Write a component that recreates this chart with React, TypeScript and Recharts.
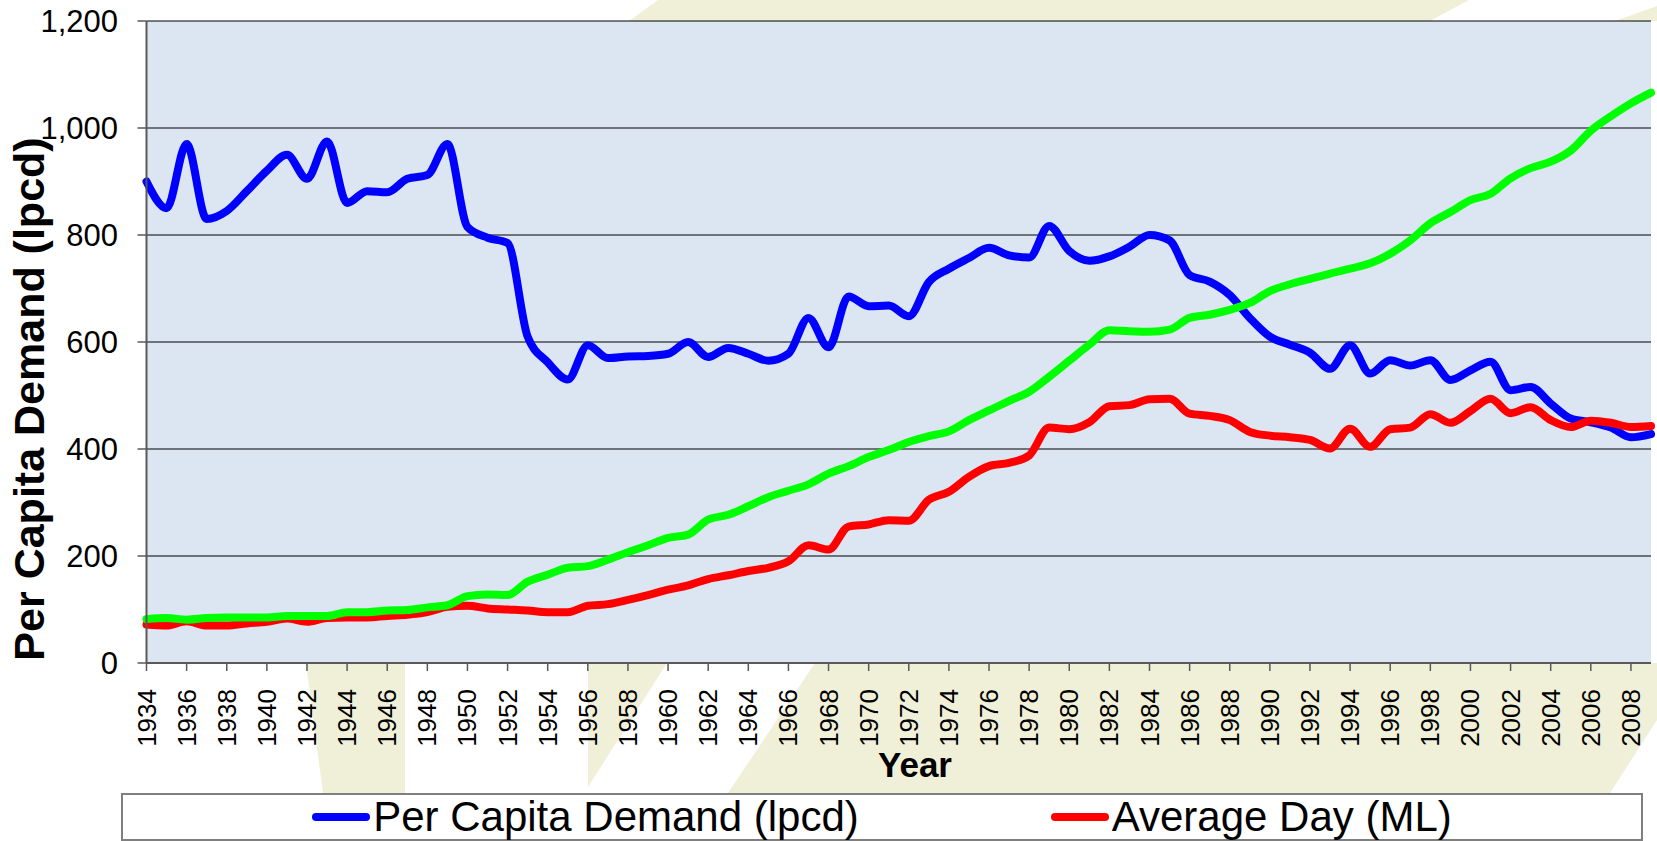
import { CartesianGrid, Legend, Line, LineChart, XAxis, YAxis } from "recharts";

const FONT = '"Liberation Sans", Arial, sans-serif';

const years = [
  1934, 1935, 1936, 1937, 1938, 1939, 1940, 1941, 1942, 1943, 1944, 1945, 1946, 1947, 1948, 1949,
  1950, 1951, 1952, 1953, 1954, 1955, 1956, 1957, 1958, 1959, 1960, 1961, 1962, 1963, 1964, 1965,
  1966, 1967, 1968, 1969, 1970, 1971, 1972, 1973, 1974, 1975, 1976, 1977, 1978, 1979, 1980, 1981,
  1982, 1983, 1984, 1985, 1986, 1987, 1988, 1989, 1990, 1991, 1992, 1993, 1994, 1995, 1996, 1997,
  1998, 1999, 2000, 2001, 2002, 2003, 2004, 2005, 2006, 2007, 2008, 2009,
];

// Per Capita Demand (lpcd)
const perCapita = [
  900, 850, 970, 830, 845, 882, 920, 950, 905, 975, 860, 882, 880, 905, 912, 970,
  815, 795, 785, 610, 562, 530, 594, 570, 573, 574, 578, 600, 572, 589, 578, 565,
  578, 645, 590, 685, 667, 668, 648, 712, 737, 757, 776, 762, 758, 817, 770, 752,
  760, 778, 800, 790, 725, 713, 688, 645, 610, 595, 580, 550, 594, 541, 566, 556,
  566, 529, 547, 563, 510, 516, 485, 457, 450, 440, 422, 428,
];

// Average Day (ML)
const averageDay = [
  72, 70, 78, 70, 70, 74, 77, 83, 77, 84, 85, 85, 88, 90, 95, 105,
  107, 102, 100, 98, 95, 95, 107, 110, 118, 127, 137, 145, 157, 164, 172, 178,
  190, 220, 212, 255, 259, 267, 266, 305, 320, 348, 368, 374, 388, 440, 437, 450,
  480, 482, 493, 494, 466, 462, 454, 432, 425, 422, 417, 401, 438, 404, 437, 440,
  465, 449, 471, 494, 467, 478, 454, 441, 453, 449, 441, 443,
];

// third series (no legend entry in the picture)
const thirdSeries = [
  82, 84, 81, 84, 85, 85, 85, 88, 88, 88, 95, 95, 98, 99, 104, 108,
  125, 128, 127, 152, 165, 178, 181, 193, 207, 220, 234, 240, 268, 277, 293, 310,
  322, 334, 354, 368, 385, 398, 413, 424, 433, 454, 472, 490, 507, 535, 565, 595,
  622, 620, 619, 623, 645, 651, 660, 673, 695, 708, 718, 728, 737, 747, 765, 790,
  822, 843, 865, 877, 906, 925, 937, 958, 995, 1022, 1046, 1066,
];

const yTicks = [0, 200, 400, 600, 800, 1000, 1200];
const legendOrder = ["Per Capita Demand (lpcd)", "Average Day (ML)"];

const data = years.map((year, i) => ({
  year,
  perCapita: perCapita[i],
  averageDay: averageDay[i],
  other: thirdSeries[i],
}));

function YearTick(props: any) {
  const bx = props.x + 9;
  const by = 689;
  return (
    <text x={bx} y={by} transform={`rotate(-90 ${bx} ${by})`} textAnchor="end"
      fontSize={26} fontFamily={FONT} fill="#000">
      {props.payload.value}
    </text>
  );
}

function YTitle() {
  return (
    <text x={44} y={399} transform="rotate(-90 44 399)" textAnchor="middle"
      fontSize={43} fontWeight="bold" fontFamily={FONT} fill="#000">
      Per Capita Demand (lpcd)
    </text>
  );
}

function XTitle() {
  return (
    <text x={915} y={777} textAnchor="middle" fontSize={35} fontWeight="bold" fontFamily={FONT} fill="#000">
      Year
    </text>
  );
}

function LegendBox({ payload }: any) {
  const items = legendOrder
    .map((name) => (payload ?? []).find((p: any) => p.value === name))
    .filter(Boolean);
  return (
    <div style={{
      width: "100%", height: "100%", boxSizing: "border-box", border: "2px solid #7f7f7f",
      background: "#fff", display: "flex", justifyContent: "center", alignItems: "center", gap: 192,
    }}>
      {items.map((p: any) => (
        <div key={p.value} style={{ display: "flex", alignItems: "center" }}>
          <svg width={58} height={12}>
            <line x1={4} y1={6} x2={54} y2={6} stroke={p.color} strokeWidth={8} strokeLinecap="round" />
          </svg>
          <span style={{ fontFamily: FONT, fontSize: 42, lineHeight: "46px", marginLeft: 3, color: "#000", whiteSpace: "nowrap" }}>
            {p.value}
          </span>
        </div>
      ))}
    </div>
  );
}

export default function App() {
  return (
    <div style={{ position: "absolute", left: 0, top: 0, width: 1657, height: 841, background: "#fff", overflow: "hidden" }}>
      <svg width={1657} height={841} style={{ position: "absolute", left: 0, top: 0 }}>
        <g fill="#F0F0D9">
          <polygon points="629,21 658,0 1469,0 1430,21" />
          <polygon points="1615,21 1657,6 1657,21" />
          <polygon points="306,663 405,663 405,793 323,793" />
          <polygon points="588,663 667,663 588,787" />
          <polygon points="815,663 1657,663 1657,720 1610,793 728,793" />
        </g>
      </svg>
      <div style={{ position: "absolute", left: 0, top: 0 }}>
        <LineChart width={1657} height={841} data={data} margin={{ top: 21, right: 6, bottom: 0, left: 0 }}>
          <CartesianGrid vertical={false} stroke="#000" strokeWidth={1} fill="#DCE6F2" fillOpacity={1} />
          <XAxis dataKey="year" interval={1} height={178} tickSize={8} tick={<YearTick />}
            axisLine={{ stroke: "#595959", strokeWidth: 2 }} tickLine={{ stroke: "#595959", strokeWidth: 1.5 }}
            label={<XTitle />} />
          <XAxis xAxisId="top" dataKey="year" orientation="top" height={0} tick={false} tickLine={false}
            axisLine={{ stroke: "#868686", strokeWidth: 2.5 }} />
          <YAxis domain={[0, 1200]} ticks={yTicks} width={146.5} tickSize={9} tickMargin={19.5}
            tickFormatter={(v: number) => v.toLocaleString("en-US")}
            tick={{ fontSize: 31, fill: "#000", fontFamily: FONT }}
            axisLine={{ stroke: "#595959", strokeWidth: 2 }} tickLine={{ stroke: "#595959", strokeWidth: 1.5 }}
            label={<YTitle />} />
          <YAxis yAxisId="right" orientation="right" domain={[0, 1200]} width={0} tick={false} tickLine={false}
            axisLine={{ stroke: "#868686", strokeWidth: 2.5 }} />
          <Legend layout="horizontal" verticalAlign="middle" align="center"
            wrapperStyle={{ left: 121, top: 793, width: 1522, height: 48 }} content={<LegendBox />} />
          <Line type="monotone" dataKey="perCapita" name="Per Capita Demand (lpcd)" stroke="#0000FF" strokeWidth={8}
            dot={false} strokeLinecap="round" strokeLinejoin="round" isAnimationActive={false} />
          <Line type="monotone" dataKey="averageDay" name="Average Day (ML)" stroke="#FF0000" strokeWidth={8}
            dot={false} strokeLinecap="round" strokeLinejoin="round" isAnimationActive={false} />
          <Line type="monotone" dataKey="other" name="Series 3" legendType="none" stroke="#00FF00" strokeWidth={8}
            dot={false} strokeLinecap="round" strokeLinejoin="round" isAnimationActive={false} />
        </LineChart>
      </div>
    </div>
  );
}
